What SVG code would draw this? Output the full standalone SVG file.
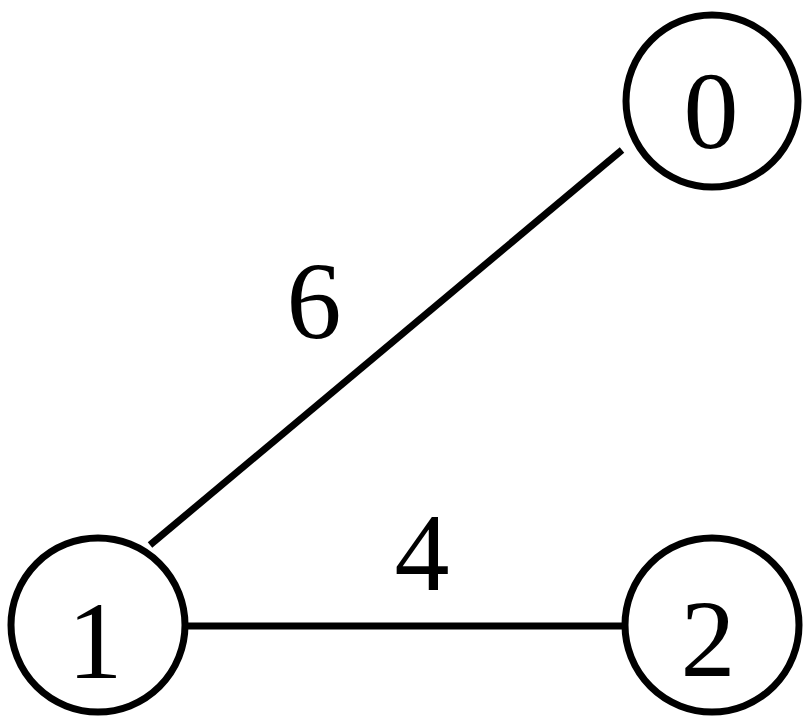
<svg xmlns="http://www.w3.org/2000/svg" width="808" height="720" viewBox="0 0 808 720">
<style>
.node{fill:#fff;stroke:#000;stroke-width:7}
.lbl{font-family:"Liberation Serif","Times New Roman",serif;font-size:110px;text-anchor:middle;fill:#000}
.edge{stroke:#000;stroke-width:7;fill:none}
</style>
<rect width="808" height="720" fill="#fff"/>
<g id="edges">
<line class="edge" x1="150" y1="545" x2="622" y2="150"/>
<line class="edge" x1="186" y1="626" x2="625" y2="626"/>
<text class="lbl" x="314" y="338">6</text>
<text class="lbl" x="422" y="590">4</text>
</g>
<g id="node0"><circle class="node" cx="712" cy="101" r="86"/><text class="lbl" x="711" y="148">0</text></g>
<g id="node1"><circle class="node" cx="98" cy="625" r="87"/><text class="lbl" x="95" y="678">1</text></g>
<g id="node2"><circle class="node" cx="712" cy="625" r="87"/><text class="lbl" x="708" y="676">2</text></g>
</svg>
